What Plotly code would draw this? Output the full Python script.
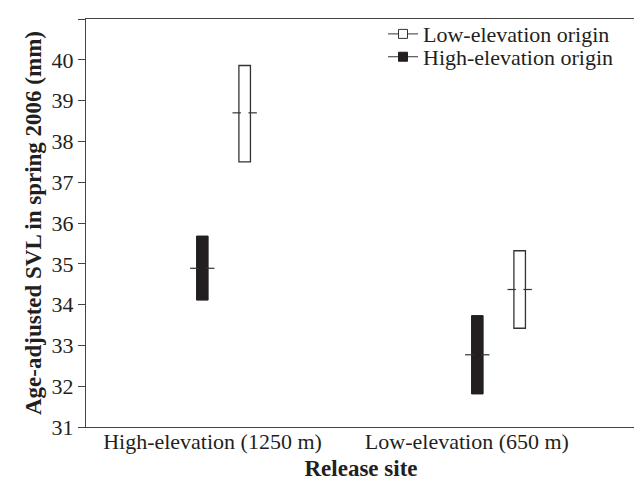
import plotly.graph_objects as go

# Release sites (x categories) and their tick labels
sites = ["High-elevation (1250 m)", "Low-elevation (650 m)"]
site_pos = [0.5, 1.5]

# Low-elevation origin (open boxes)
low_mean = [38.70, 34.37]
low_upper = [39.86, 35.32]
low_lower = [37.50, 33.42]

# High-elevation origin (filled boxes)
high_mean = [34.89, 32.77]
high_upper = [35.68, 33.73]
high_lower = [34.11, 31.81]

offset = 0.077
box_w = 0.042
tick_off = 0.029
line_col = "#333333"
fill_col = "#231f20"
font_fam = "Liberation Serif, Times New Roman, serif"

x_low = [p + offset for p in site_pos]
x_high = [p - offset for p in site_pos]

fig = go.Figure()

fig.add_trace(go.Bar(
    x=x_high, y=[u - l for u, l in zip(high_upper, high_lower)], base=high_lower,
    width=box_w, marker=dict(color=fill_col, line=dict(color=fill_col, width=1)),
    showlegend=False, hoverinfo="skip"))
fig.add_trace(go.Bar(
    x=x_low, y=[u - l for u, l in zip(low_upper, low_lower)], base=low_lower,
    width=box_w, marker=dict(color="white", line=dict(color=line_col, width=1.3)),
    showlegend=False, hoverinfo="skip"))

# Mean ticks sticking out either side of each box
for xs, ms in ((x_high, high_mean), (x_low, low_mean)):
    tx = [x - tick_off for x in xs] + [x + tick_off for x in xs]
    ty = list(ms) + list(ms)
    fig.add_trace(go.Scatter(
        x=tx, y=ty, mode="markers",
        marker=dict(symbol="line-ew", size=6, line=dict(color=line_col, width=1.2)),
        showlegend=False, hoverinfo="skip"))

# Legend entries (one legend per row for exact placement)
fig.add_trace(go.Scatter(
    x=[None], y=[None], mode="lines+markers", name="Low-elevation origin",
    line=dict(color=line_col, width=1), legend="legend",
    marker=dict(symbol="square", size=9, color="white", line=dict(color=line_col, width=1))))
fig.add_trace(go.Scatter(
    x=[None], y=[None], mode="lines+markers", name="High-elevation origin",
    line=dict(color=line_col, width=1), legend="legend2",
    marker=dict(symbol="square", size=9, color=fill_col, line=dict(color=fill_col, width=1))))

leg_common = dict(xanchor="left", yanchor="middle", bgcolor="rgba(0,0,0,0)",
                  font=dict(size=22), itemwidth=30, borderwidth=0)

fig.update_layout(
    width=634, height=481,
    margin=dict(l=78, r=6, t=11, b=62, autoexpand=False),
    paper_bgcolor="white", plot_bgcolor="white",
    font=dict(family=font_fam, size=22, color="#231f20"),
    barmode="overlay",
    legend=dict(x=0.54, y=0.963, **leg_common),
    legend2=dict(x=0.54, y=0.907, **leg_common),
    xaxis=dict(range=[0, 2], tickvals=[0.46, 1.385], ticktext=sites,
               automargin=False, ticklabelstandoff=-6,
               showgrid=False, zeroline=False, ticks="",
               showline=True, linecolor="#444444", linewidth=1.2, mirror=True,
               title=dict(text="<b>Release site</b>", font=dict(size=23), standoff=7),
               tickfont=dict(size=22)),
    yaxis=dict(range=[31, 41], dtick=1, showgrid=False, zeroline=False,
               automargin=False,
               ticks="outside", ticklen=7, tickcolor="#444444",
               showline=True, linecolor="#444444", linewidth=1.2, mirror=True,
               title=dict(text="<b>Age-adjusted SVL in spring 2006 (mm)</b>",
                          font=dict(size=23), standoff=3),
               tickfont=dict(size=22)),
)

fig.write_html("out.html")
